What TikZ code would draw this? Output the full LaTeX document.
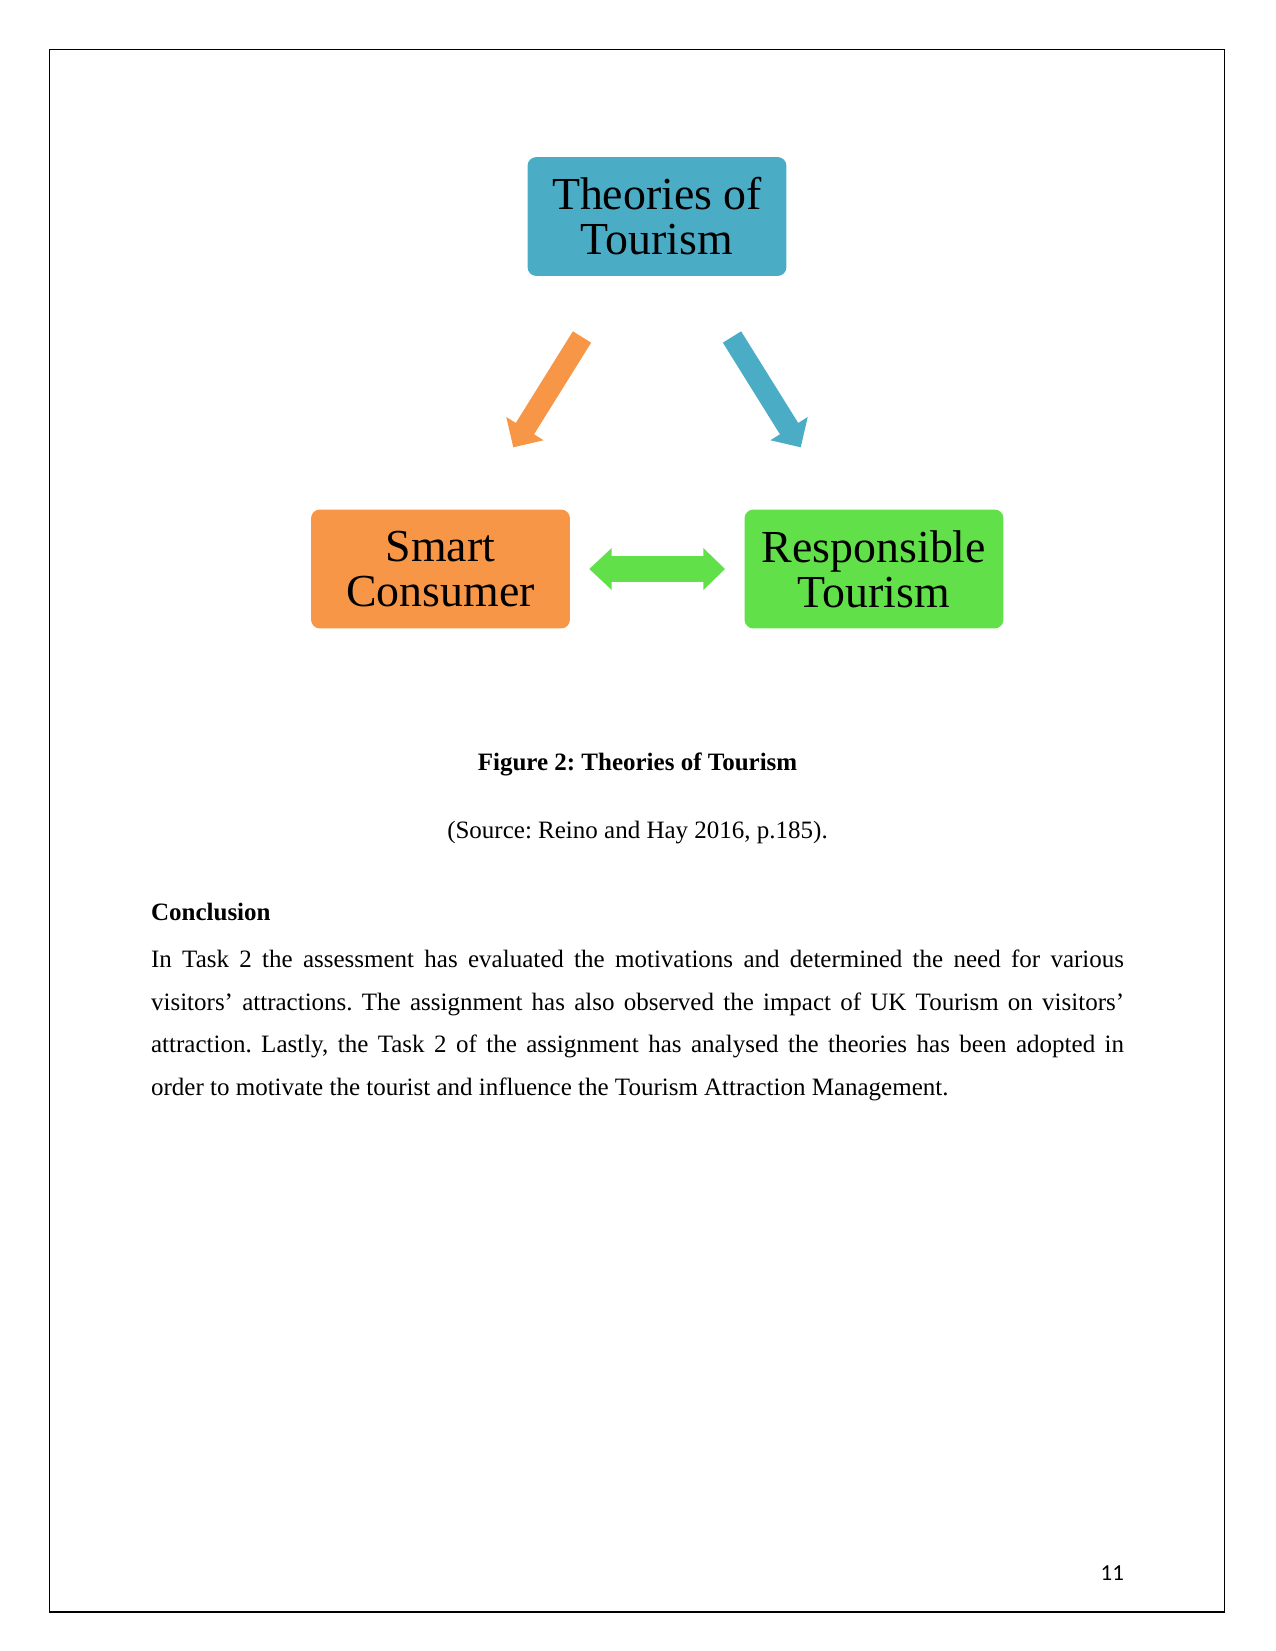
\documentclass[tikz,border=0pt]{standalone}
\usepackage{fontspec}
\setmainfont{Liberation Serif}
\newfontfamily\pgnumfont{Carlito}
\usetikzlibrary{calc}
\definecolor{smBlue}{RGB}{75,172,198}
\definecolor{smOrange}{RGB}{247,150,70}
\definecolor{smGreen}{RGB}{98,224,74}
\frenchspacing
\begin{document}
\begin{tikzpicture}[x=0.48pt,y=-0.48pt,
  box/.style={rounded corners=4.3pt, minimum width=124.3pt, minimum height=57.1pt,
    inner sep=0pt, align=center, font=\fontsize{22}{21.6}\selectfont, text=black},
  bodytext/.style={font=\fontsize{12}{14}\selectfont\frenchspacing},
  boldtext/.style={font=\fontsize{12}{14}\selectfont\bfseries\frenchspacing}]
\useasboundingbox (0,0) rectangle (1275,1651);
\draw[line width=0.6pt] (49.5,49.5) rectangle (1224.5,1612);

% boxes
\node[box, fill=smBlue] (top) at (657,216.5) {Theories of\\Tourism};
\node[box, fill=smOrange] (smart) at (440.5,569) {Smart\\Consumer};
\node[box, fill=smGreen] (resp) at (874,569) {Responsible\\Tourism};

% orange arrow
\coordinate (oT) at (582,337);
\coordinate (oP) at (513.3,447.3);
\coordinate (oB) at ($(oP)!10.56pt!(oT)$);
\fill[smOrange] ($(oT)!5.16pt!90:(oP)$) -- ($(oB)!5.16pt!90:(oP)$) -- ($(oB)!10.56pt!90:(oP)$)
  -- (oP) -- ($(oB)!10.56pt!-90:(oP)$) -- ($(oB)!5.16pt!-90:(oP)$) -- ($(oT)!5.16pt!-90:(oP)$) -- cycle;

% blue arrow
\coordinate (bT) at (732,337);
\coordinate (bP) at (800.7,447.3);
\coordinate (bB) at ($(bP)!10.56pt!(bT)$);
\fill[smBlue] ($(bT)!5.16pt!90:(bP)$) -- ($(bB)!5.16pt!90:(bP)$) -- ($(bB)!10.56pt!90:(bP)$)
  -- (bP) -- ($(bB)!10.56pt!-90:(bP)$) -- ($(bB)!5.16pt!-90:(bP)$) -- ($(bT)!5.16pt!-90:(bP)$) -- cycle;

% double arrow
\coordinate (dL) at (589.3,569);
\coordinate (dR) at (725,569);
\fill[smGreen] (dL) -- ($(dL)+(22.4,-21)$) -- ($(dL)+(22.4,-12.8)$) -- ($(dR)+(-21.7,-12.8)$)
  -- ($(dR)+(-21.7,-21)$) -- (dR) -- ($(dR)+(-21.7,21)$) -- ($(dR)+(-21.7,12.8)$)
  -- ($(dL)+(22.4,12.8)$) -- ($(dL)+(22.4,21)$) -- cycle;

% texts
\node[anchor=base, inner sep=0pt, boldtext] (cap) at (637.5,770) {Figure 2: Theories of Tourism};
\node[anchor=base, inner sep=0pt, bodytext] (src) at (637.5,838.3) {(Source: Reino and Hay 2016, p.185).};
\node[anchor=base west, inner sep=0pt, boldtext] (concl) at (150.7,920.7) {Conclusion};
\node[anchor=base west, inner sep=0pt, text width=467pt, align=justify,
  font=\fontsize{12}{20.5}\selectfont\frenchspacing] (para) at (150.7,967.3)
  {\hyphenpenalty=10000\emergencystretch=3em In Task 2 the assessment has evaluated the motivations and determined the need for various\linebreak
   visitors’ attractions. The assignment has also observed the impact of UK Tourism on visitors’\linebreak
   attraction. Lastly, the Task 2 of the assignment has analysed the theories has been adopted in\linebreak
   order to motivate the tourist and influence the Tourism Attraction Management.};
\node[anchor=base east, inner sep=0pt, font=\pgnumfont\fontsize{11}{13}\selectfont] (pg) at (1124.3,1580.7) {11};
\end{tikzpicture}
\end{document}
